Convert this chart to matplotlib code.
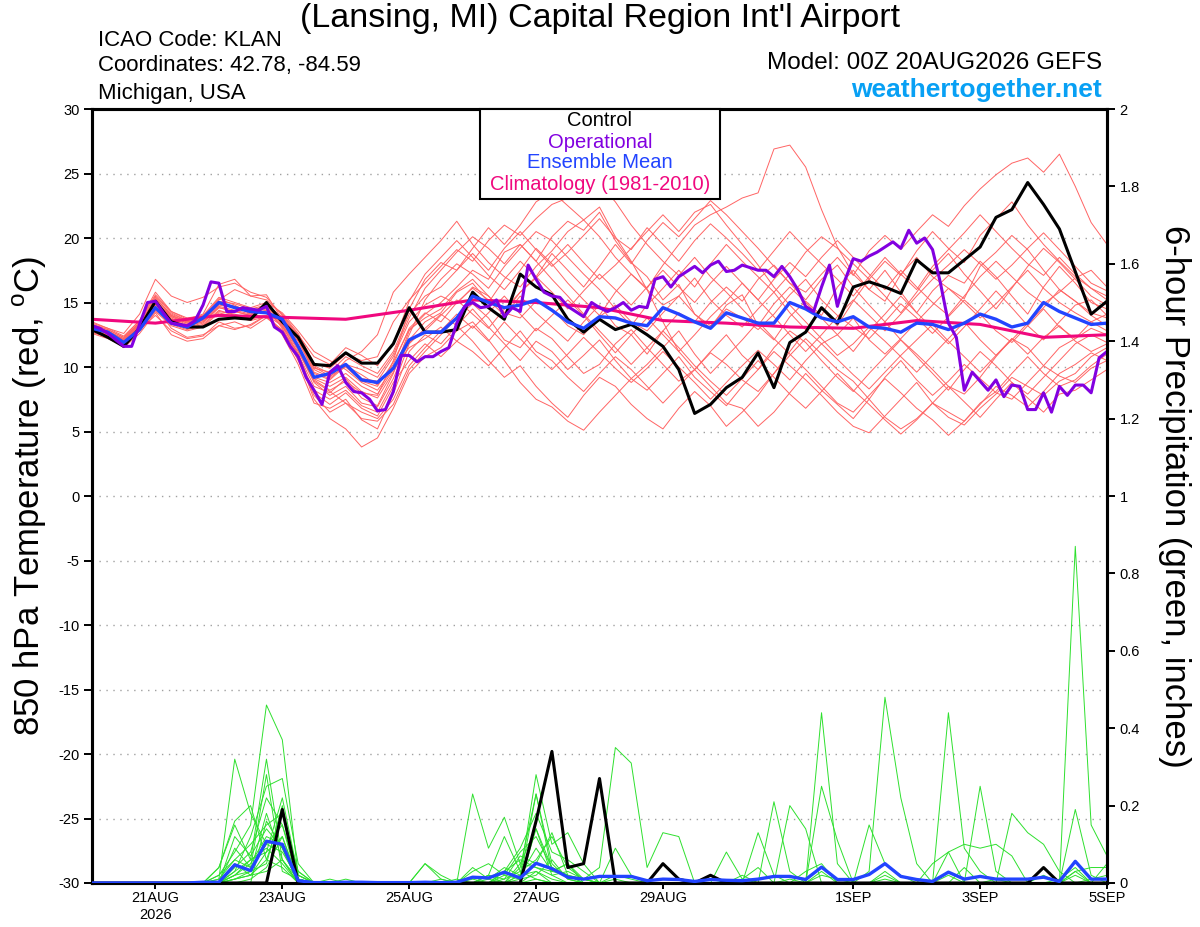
import numpy as np
import matplotlib
matplotlib.use('Agg')
import matplotlib.pyplot as plt
from matplotlib.patches import Rectangle

plt.rcParams['font.family'] = ['Liberation Sans', 'DejaVu Sans']
plt.rcParams['mathtext.fontset'] = 'custom'
plt.rcParams['mathtext.rm'] = 'Liberation Sans'
plt.rcParams['axes.unicode_minus'] = False

# time axis: days after 00Z 20AUG2026, 6-hourly (ensemble) and 3-hourly (operational)
days_6h = np.arange(65) / 4.0
days_3h = np.arange(129) / 8.0
days_clim = np.arange(17)

date_pos = [1, 3, 5, 7, 9, 12, 14, 16]
date_lab = ['21AUG\n2026', '23AUG', '25AUG', '27AUG', '29AUG', '1SEP', '3SEP', '5SEP']

# 850 hPa temperature (C)
control_t = [12.9, 12.3, 11.6, 13.0, 15.1, 13.5, 13.1, 13.1, 13.7, 13.8, 13.7, 15.0,
             13.5, 12.3, 10.2, 10.1, 11.1, 10.3, 10.3, 11.8, 14.6, 12.7, 12.7, 12.9,
             15.8, 14.6, 13.7, 17.2, 16.2, 15.6, 13.7, 12.7, 13.7, 12.9, 13.3, 12.5,
             11.6, 9.8, 6.4, 7.1, 8.4, 9.2, 11.1, 8.4, 11.9, 12.7, 14.6, 13.4,
             16.2, 16.6, 16.2, 15.7, 18.3, 17.3, 17.3, 18.3, 19.3, 21.6, 22.2, 24.3,
             22.6, 20.7, 17.4, 14.1, 15.1]

mean_t = [13.0, 12.7, 11.9, 12.9, 14.6, 13.4, 13.1, 13.8, 15.0, 14.6, 14.3, 14.2,
          13.7, 11.6, 9.2, 9.5, 10.2, 9.0, 8.8, 9.9, 12.1, 12.7, 12.7, 13.8,
          15.5, 15.0, 14.6, 14.8, 15.2, 14.4, 13.5, 13.0, 13.9, 13.8, 13.4, 13.2,
          14.6, 14.1, 13.5, 13.0, 14.2, 13.8, 13.4, 13.4, 15.0, 14.5, 13.8, 13.5,
          13.9, 13.1, 13.0, 12.7, 13.4, 13.3, 12.9, 13.4, 14.1, 13.7, 13.1, 13.4,
          15.0, 14.3, 13.8, 13.3, 13.4]

oper_t = [13.2, 13.0, 12.6, 12.1, 11.6, 11.6, 13.3, 15.0,
          15.1, 14.2, 13.4, 13.3, 13.2, 13.6, 14.8, 16.6,
          16.5, 14.3, 14.3, 14.6, 14.5, 14.4, 14.7, 13.1,
          12.7, 11.6, 10.8, 9.2, 8.2, 7.1, 9.6, 10.1,
          8.8, 8.1, 8.0, 7.5, 6.6, 6.7, 8.1, 10.9,
          10.9, 10.4, 10.8, 10.8, 11.2, 11.5, 13.4, 14.7,
          15.0, 14.6, 14.7, 15.2, 13.9, 14.6, 14.3, 17.9,
          16.8, 15.8, 15.5, 15.4, 14.7, 14.3, 13.9, 15.0,
          14.6, 14.3, 14.6, 15.0, 14.4, 14.7, 14.6, 16.8,
          17.0, 16.2, 17.0, 17.4, 17.8, 17.3, 17.9, 18.2,
          17.4, 17.5, 17.9, 17.7, 17.5, 17.5, 17.0, 17.8,
          17.0, 16.0, 14.7, 14.3, 16.2, 17.9, 14.7, 16.8,
          18.4, 18.2, 18.6, 18.9, 19.3, 19.7, 19.2, 20.6,
          19.6, 20.0, 19.1, 16.5, 13.4, 12.3, 8.2, 9.6,
          8.9, 8.2, 9.0, 7.7, 8.6, 8.5, 6.7, 6.7,
          8.0, 6.5, 8.5, 7.8, 8.6, 8.6, 8.0, 10.7,
          11.2]

clim_t = [13.7, 13.4, 14.0, 13.85, 13.7, 14.4, 15.2, 15.0, 14.6, 13.6, 13.4, 13.1,
          13.0, 13.6, 13.3, 12.3, 12.5]

members_t = [
    [13.2, 12.8, 12.1, 13.5, 15.5, 14.2, 13.6, 13.9, 15.3, 14.8, 14.1, 14.9, 13.2,
     11.0, 8.5, 8.0, 9.1, 7.6, 7.0, 9.5, 12.8, 14.1, 15.0, 16.2, 17.5, 16.8,
     18.9, 19.5, 18.2, 20.1, 21.3, 20.6, 22.0, 19.8, 18.1, 17.0, 15.2, 16.4,
     14.1, 13.0, 14.8, 15.6, 13.2, 12.1, 13.9, 15.1, 14.0, 16.2, 17.5, 16.0,
     15.1, 17.2, 18.5, 17.0, 16.1, 15.3, 17.8, 18.9, 20.2, 19.1, 17.5, 16.0,
     15.1, 14.2, 13.8],
    [12.8, 12.4, 11.5, 12.6, 14.2, 12.5, 12.0, 12.2, 13.2, 12.9, 13.3, 14.0, 12.8,
     10.5, 7.8, 6.5, 7.2, 6.0, 5.8, 7.1, 9.8, 11.2, 12.5, 13.8, 14.9, 13.8,
     12.1, 11.5, 13.0, 12.2, 10.8, 9.5, 10.2, 11.8, 12.9, 11.5, 10.2, 8.9,
     9.8, 11.2, 12.5, 10.9, 9.8, 11.5, 12.8, 11.9, 10.5, 9.2, 8.1, 9.5,
     10.8, 12.1, 11.0, 9.8, 8.5, 7.9, 9.2, 10.8, 12.2, 11.5, 10.1, 9.3,
     8.8, 9.9, 10.5],
    [13.5, 13.0, 12.6, 14.1, 16.8, 15.5, 15.0, 15.4, 16.2, 16.5, 15.8, 15.4, 14.0,
     12.5, 10.8, 10.2, 11.5, 10.9, 10.1, 11.8, 15.1, 17.2, 18.5, 19.8, 18.5, 17.1,
     16.0, 17.5, 19.2, 18.0, 16.5, 15.2, 14.0, 15.8, 17.2, 16.1, 17.9, 19.5,
     21.0, 21.8, 22.4, 23.1, 23.5, 26.9, 27.2, 25.5, 22.2, 19.3, 17.2, 16.0,
     17.5, 15.8, 14.2, 15.9, 17.1, 16.5, 18.2, 17.0, 15.5, 14.1, 16.2, 17.8,
     16.5, 15.0, 14.5],
    [12.9, 12.5, 11.9, 13.0, 14.8, 13.6, 13.1, 13.4, 14.6, 14.3, 14.0, 14.8, 13.8,
     12.2, 9.5, 9.0, 10.1, 9.4, 8.6, 10.2, 13.0, 14.2, 13.5, 15.0, 16.1, 15.2,
     14.0, 15.5, 14.2, 13.1, 12.0, 13.5, 14.8, 13.2, 12.5, 11.0, 12.8, 14.2,
     13.5, 15.0, 16.2, 15.1, 16.8, 17.9, 16.5, 15.8, 17.2, 18.5, 17.1, 19.0,
     20.2, 19.1, 20.5, 21.8, 20.9, 22.5, 23.8, 24.9, 25.8, 26.2, 25.1, 26.5,
     24.0, 21.2, 19.5],
    [13.1, 12.7, 12.2, 13.3, 15.2, 14.0, 13.5, 13.8, 15.0, 14.6, 14.3, 14.6, 13.0,
     10.8, 7.5, 6.0, 5.2, 3.8, 4.5, 6.8, 9.5, 10.8, 11.5, 12.8, 13.5, 12.1,
     10.5, 8.8, 7.5, 6.9, 5.8, 5.1, 6.5, 7.8, 9.1, 8.2, 9.5, 10.8,
     9.2, 8.1, 7.0, 8.5, 9.8, 11.2, 10.1, 9.0, 7.8, 6.5, 5.4, 4.9,
     6.2, 7.5, 8.8, 7.2, 6.1, 5.5, 6.8, 7.9, 9.2, 8.5, 7.8, 8.9,
     9.5, 10.8, 11.5],
    [13.0, 12.6, 12.0, 13.1, 14.9, 13.9, 13.4, 13.7, 14.9, 14.7, 14.4, 14.6, 13.6,
     12.0, 9.8, 9.2, 10.5, 11.2, 12.5, 15.8, 17.2, 18.5, 19.8, 21.3, 19.5, 18.1,
     17.0, 16.2, 17.8, 19.0, 20.5, 21.4, 20.1, 18.5, 17.2, 16.0, 14.8, 15.5,
     16.9, 15.2, 14.0, 13.1, 14.5, 15.8, 14.2, 12.9, 11.8, 12.5, 13.8, 12.1,
     11.0, 12.2, 13.5, 14.8, 16.1, 15.0, 13.8, 14.9, 16.2, 17.5, 16.1, 15.0,
     14.2, 13.5, 12.8],
    [12.7, 12.3, 11.8, 12.9, 14.0, 12.8, 12.2, 12.4, 13.5, 13.0, 13.2, 14.0, 13.2,
     11.5, 9.0, 8.2, 8.9, 8.0, 7.8, 10.5, 14.5, 16.8, 18.1, 17.5, 19.2, 20.8,
     19.5, 21.0, 22.8, 23.6, 22.5, 21.4, 22.4, 20.1, 18.2, 16.0, 13.5, 11.2,
     9.8, 8.5, 7.2, 6.8, 5.4, 6.5, 8.0, 9.5, 8.2, 7.1, 6.0, 7.5,
     9.2, 10.5, 9.0, 7.8, 8.9, 10.2, 9.1, 8.0, 7.5, 8.8, 10.1, 11.5,
     12.2, 13.0, 12.5],
    [13.3, 12.9, 12.3, 13.4, 15.3, 14.1, 13.6, 13.9, 15.1, 14.9, 14.5, 14.8, 13.9,
     12.4, 10.1, 9.5, 10.2, 9.1, 8.9, 10.8, 13.5, 14.8, 15.5, 14.9, 16.2, 15.5,
     14.2, 13.8, 15.1, 14.5, 13.2, 12.5, 13.9, 14.8, 13.5, 12.8, 14.2, 15.5,
     14.1, 13.2, 14.5, 13.8, 12.9, 14.1, 15.6, 16.8, 15.2, 14.0, 13.1, 12.2,
     13.5, 14.9, 13.8, 12.6, 13.9, 15.2, 14.1, 12.8, 11.9, 13.2, 14.5, 13.1,
     12.2, 13.5, 14.1],
    [12.6, 12.2, 11.6, 12.8, 14.4, 13.3, 12.9, 13.2, 14.3, 14.1, 13.7, 14.0, 12.5,
     10.2, 7.2, 6.8, 7.5, 5.9, 5.2, 7.9, 11.2, 12.5, 11.8, 13.2, 12.0, 10.5,
     9.2, 10.1, 8.5, 7.2, 6.1, 7.8, 9.2, 8.5, 7.1, 6.0, 5.2, 6.8,
     8.1, 7.0, 5.4, 6.5, 7.8, 9.5, 11.2, 12.8, 14.5, 13.2, 15.1, 16.8,
     18.2, 17.1, 19.0, 20.5, 19.2, 18.1, 20.2, 21.5, 22.8, 21.0, 19.5, 18.2,
     17.0, 16.1, 15.2],
    [13.0, 12.5, 11.9, 13.0, 15.1, 13.7, 13.2, 13.5, 14.7, 14.4, 14.1, 14.4, 13.1,
     11.3, 8.8, 7.8, 8.5, 7.2, 6.9, 9.1, 12.1, 13.5, 14.2, 15.8, 16.5, 15.0,
     16.8, 18.2, 17.0, 18.8, 17.5, 16.2, 17.8, 19.5, 18.0, 19.8, 21.2, 20.1,
     21.5, 22.9, 21.8, 20.5, 19.2, 17.8, 16.5, 15.2, 16.8, 17.9, 16.2, 14.8,
     13.5, 12.1, 10.8, 9.5, 8.2, 9.8, 11.2, 10.1, 8.8, 7.9, 9.2, 10.5,
     11.8, 12.5, 11.9],
    [13.4, 13.0, 12.4, 13.6, 15.6, 14.3, 13.8, 14.0, 15.4, 15.0, 14.6, 15.0, 14.2,
     12.8, 11.2, 10.5, 9.8, 8.8, 8.2, 9.9, 11.5, 12.2, 13.1, 12.0, 11.2, 10.1,
     11.5, 12.8, 11.2, 10.5, 9.2, 8.1, 9.5, 10.8, 9.8, 8.5, 7.2, 8.5,
     9.8, 11.1, 10.2, 9.0, 8.1, 9.5, 10.9, 12.2, 11.0, 9.8, 8.9, 7.5,
     6.1, 5.2, 6.0, 7.2, 6.5, 5.8, 7.1, 8.5, 7.8, 6.9, 8.1, 9.5,
     10.2, 11.1, 10.5],
    [12.9, 12.5, 12.0, 13.2, 15.0, 13.9, 13.4, 13.6, 14.8, 14.6, 14.2, 14.5, 13.4,
     11.6, 9.2, 8.8, 9.5, 8.5, 7.9, 9.8, 12.5, 15.2, 16.8, 18.0, 17.2, 16.1,
     17.8, 19.2, 20.5, 19.8, 18.5, 17.2, 16.0, 14.5, 13.2, 14.8, 16.1, 17.5,
     16.2, 18.0, 19.5, 18.2, 17.0, 15.8, 17.2, 18.9, 20.1, 19.2, 18.0, 16.8,
     15.5, 14.2, 15.8, 17.5, 18.8, 17.2, 15.9, 14.5, 16.1, 17.8, 19.2, 18.1,
     16.8, 15.5, 14.8],
    [13.1, 12.6, 11.9, 13.0, 14.7, 13.0, 12.3, 12.5, 13.2, 13.5, 13.0, 13.8, 12.9,
     11.0, 8.0, 7.1, 8.0, 6.8, 6.2, 8.5, 11.8, 13.0, 14.1, 13.2, 14.5, 13.1,
     11.8, 10.5, 12.0, 11.2, 9.8, 10.9, 12.1, 10.5, 9.1, 10.2, 11.5, 12.8,
     11.0, 9.5, 10.8, 12.1, 13.5, 12.2, 11.0, 9.8, 8.5, 7.2, 6.5, 7.8,
     9.1, 8.0, 6.8, 5.9, 4.7, 5.8, 7.2, 8.1, 9.5, 10.8, 9.5, 8.5,
     9.0, 10.1, 11.0],
    [13.2, 12.7, 12.1, 13.3, 15.4, 14.0, 13.5, 13.8, 15.2, 16.0, 15.5, 15.6, 13.7,
     12.1, 9.9, 9.6, 10.8, 10.1, 9.5, 11.2, 14.1, 15.5, 16.2, 17.5, 18.8, 17.5,
     19.2, 20.5, 19.1, 17.8, 18.9, 20.2, 21.5, 20.0, 19.1, 20.8, 19.5, 18.2,
     19.8, 21.1, 20.0, 18.8, 17.5, 19.0, 20.5, 19.2, 18.0, 16.8, 15.5, 17.0,
     18.5, 17.2, 16.0, 17.8, 19.1, 20.4, 21.8, 20.5, 19.2, 18.0, 17.1, 18.5,
     17.2, 16.1, 15.5],
    [12.8, 12.4, 11.7, 12.9, 14.5, 13.4, 13.0, 13.3, 14.4, 14.0, 13.8, 14.0, 12.6,
     10.6, 8.2, 7.5, 8.2, 7.0, 6.5, 8.8, 10.5, 11.8, 10.8, 12.0, 13.2, 12.0,
     13.5, 12.2, 10.9, 9.8, 11.0, 12.3, 11.1, 9.9, 8.8, 9.9, 11.2, 10.0,
     8.8, 7.5, 8.8, 10.1, 11.3, 10.2, 9.0, 10.5, 11.8, 10.6, 9.4, 8.3,
     9.6, 10.9, 12.1, 13.3, 12.0, 10.8, 9.6, 10.9, 12.2, 11.0, 12.3, 13.2,
     12.0, 11.2, 11.8],
    [13.3, 12.9, 12.3, 13.6, 15.8, 14.3, 13.7, 14.1, 16.4, 16.8, 15.5, 15.2, 14.1,
     12.6, 10.3, 9.9, 11.0, 10.5, 10.8, 13.5, 15.2, 16.5, 17.8, 19.1, 18.2, 19.8,
     21.0, 20.2, 21.5, 22.6, 23.1, 23.9, 24.2, 22.8, 21.0, 19.5, 18.2, 17.1,
     18.5, 17.0, 15.8, 14.5, 13.2, 14.9, 16.2, 15.0, 13.8, 12.5, 11.2, 12.8,
     14.1, 15.5, 14.2, 13.0, 11.8, 13.1, 14.5, 15.9, 14.6, 13.2, 12.1, 13.5,
     14.8, 15.2, 14.0],
    [12.7, 12.3, 11.8, 12.8, 14.3, 13.2, 12.8, 13.1, 14.2, 13.9, 13.6, 13.9, 12.7,
     11.2, 8.9, 8.1, 7.2, 6.5, 6.0, 7.5, 10.1, 11.5, 12.8, 14.1, 13.0, 14.2,
     15.5, 14.1, 12.8, 14.0, 15.2, 14.0, 12.5, 11.1, 12.5, 13.8, 12.5, 11.2,
     12.5, 13.9, 15.1, 16.5, 15.2, 13.9, 12.5, 11.2, 12.5, 13.9, 15.2, 14.0,
     12.8, 14.1, 15.5, 16.8, 17.9, 19.1, 18.0, 16.8, 17.9, 19.2, 20.4, 19.1,
     17.8, 16.5, 15.9],
    [13.0, 12.6, 12.1, 13.2, 15.1, 13.8, 13.3, 13.6, 14.9, 14.6, 14.3, 14.6, 13.6,
     12.0, 9.6, 9.1, 10.2, 9.8, 9.2, 11.0, 13.8, 16.1, 17.5, 18.9, 20.1, 19.2,
     18.0, 19.5, 18.2, 16.8, 15.5, 14.1, 12.8, 11.5, 10.2, 11.5, 12.8, 11.5,
     10.1, 8.9, 7.8, 9.1, 10.5, 9.2, 7.9, 6.8, 8.1, 9.5, 8.2, 7.1,
     5.9, 4.8, 5.9, 7.2, 8.5, 7.3, 6.1, 7.5, 8.8, 7.6, 6.5, 7.9,
     8.2, 9.0, 9.8],
    [13.2, 12.8, 12.2, 13.4, 15.0, 14.0, 13.5, 13.7, 15.0, 14.7, 14.3, 14.8, 13.8,
     12.3, 10.0, 9.3, 10.0, 8.9, 8.5, 10.4, 12.9, 13.8, 14.5, 15.9, 16.8, 15.5,
     14.2, 15.8, 17.0, 15.8, 14.5, 15.9, 17.2, 16.0, 14.8, 16.2, 17.5, 16.2,
     15.0, 16.5, 17.8, 16.5, 15.2, 16.8, 18.1, 17.0, 18.5, 19.8, 18.5, 17.2,
     16.0, 17.5, 16.2, 15.0, 14.0, 15.5, 17.0, 18.2, 17.0, 15.8, 14.9, 15.8,
     16.9, 17.5, 16.2],
    [12.9, 12.4, 11.9, 13.1, 14.9, 13.7, 13.2, 13.5, 14.6, 14.3, 14.0, 14.4, 13.3,
     11.4, 9.1, 8.5, 9.2, 8.1, 7.6, 9.6, 11.9, 12.8, 14.0, 15.2, 14.1, 13.0,
     14.5, 15.8, 16.9, 18.2, 19.5, 18.1, 16.8, 17.9, 19.2, 20.5, 21.8, 20.5,
     22.0, 22.6, 21.0, 19.5, 17.9, 16.2, 14.8, 13.5, 12.2, 10.9, 11.8, 13.1,
     12.0, 10.8, 9.6, 10.9, 12.2, 13.5, 12.1, 10.9, 12.1, 13.4, 14.6, 16.0,
     15.1, 14.0, 13.2],
]

# 6-hour precipitation, hundredths of an inch
control_p = [0, 0, 0, 0, 0, 0, 0, 0, 0, 0, 0, 0,
             19, 0, 0, 0, 0, 0, 0, 0, 0, 0, 0, 0,
             0, 0, 0, 0, 16, 34, 4, 5, 27, 0, 0, 0,
             5, 1, 0, 2, 0, 0, 0, 0, 0, 0, 0, 0,
             0, 0, 0, 0, 0, 0, 0, 0, 0, 0, 0, 0,
             4, 0, 0, 0, 0]

mean_p = [0, 0, 0, 0, 0, 0, 0, 0.2, 0.2, 4.7, 3.2, 10.8,
          10.0, 0.6, 0.1, 0.1, 0.2, 0.2, 0.1, 0.1, 0.1, 0.2, 0.1, 0.2,
          1.5, 1.3, 2.8, 1.3, 5.1, 3.7, 1.5, 1.0, 1.7, 1.7, 1.7, 0.6,
          1.0, 0.9, 0.4, 0.9, 0.7, 0.6, 1.0, 1.7, 1.7, 0.9, 4.1, 0.9,
          0.9, 2.2, 5.0, 1.7, 0.9, 0.4, 2.8, 1.0, 1.7, 1.0, 1.0, 1.0,
          1.5, 0.4, 5.6, 1.0, 1.0]

members_p = [
    [0, 0, 0, 0, 0, 0, 0, 0, 2, 8, 15, 46, 37, 2, 0, 0, 0, 0, 0, 0, 0, 0, 0, 0, 3,
     5, 2, 8, 12, 4, 2, 0, 0, 1, 0, 0, 0, 0, 0, 0, 0, 2, 0, 0, 1, 0, 3, 0, 0, 0,
     2, 0, 0, 0, 0, 0, 0, 1, 0, 0, 0, 0, 2, 0, 0],
    [0, 0, 0, 0, 0, 0, 0, 0, 1, 32, 18, 10, 8, 1, 0, 0, 0, 0, 0, 0, 0, 0, 0, 0, 0,
     2, 12, 3, 1, 0, 0, 0, 0, 0, 0, 0, 0, 0, 0, 0, 0, 0, 0, 0, 0, 0, 44, 5, 0, 0,
     0, 0, 0, 0, 0, 0, 0, 0, 0, 0, 0, 0, 0, 0, 0],
    [0, 0, 0, 0, 0, 0, 0, 0, 0, 3, 12, 25, 27, 5, 0, 0, 0, 0, 0, 0, 0, 0, 0, 0, 0,
     0, 3, 9, 18, 8, 6, 3, 0, 0, 0, 0, 0, 0, 0, 0, 0, 0, 0, 0, 0, 0, 0, 0, 0, 3,
     48, 22, 5, 0, 0, 0, 0, 0, 0, 0, 0, 0, 0, 0, 0],
    [0, 0, 0, 0, 0, 0, 0, 0, 4, 16, 20, 6, 18, 3, 0, 0, 0, 0, 0, 0, 0, 5, 2, 0, 0,
     1, 4, 2, 28, 10, 13, 5, 0, 0, 0, 0, 0, 0, 0, 0, 0, 0, 0, 0, 0, 0, 0, 0, 0, 0,
     0, 0, 0, 0, 44, 9, 3, 0, 0, 0, 0, 0, 0, 0, 0],
    [0, 0, 0, 0, 0, 0, 0, 0, 0, 4, 8, 22, 15, 2, 0, 1, 0, 0, 0, 0, 0, 0, 0, 0, 23,
     9, 17, 5, 4, 3, 2, 1, 4, 35, 31, 4, 13, 12, 0, 0, 0, 0, 0, 0, 0, 0, 0, 0, 0, 0,
     0, 0, 0, 0, 0, 0, 0, 0, 0, 0, 0, 0, 87, 15, 7],
    [0, 0, 0, 0, 0, 0, 0, 0, 4, 15, 6, 32, 6, 1, 0, 0, 0, 0, 0, 0, 0, 0, 0, 0, 0,
     0, 2, 1, 23, 3, 5, 1, 0, 2, 1, 0, 0, 0, 0, 0, 0, 0, 0, 21, 3, 0, 0, 0, 0, 0,
     0, 0, 0, 0, 0, 0, 25, 3, 0, 0, 0, 0, 19, 2, 0],
    [0, 0, 0, 0, 0, 0, 0, 0, 0, 9, 4, 28, 3, 1, 0, 0, 1, 0, 0, 0, 0, 0, 0, 0, 1,
     0, 1, 7, 5, 13, 2, 1, 0, 0, 0, 0, 0, 0, 0, 0, 0, 0, 0, 0, 20, 14, 0, 0, 0, 0,
     0, 0, 0, 0, 0, 0, 0, 0, 18, 13, 10, 3, 0, 0, 0],
    [0, 0, 0, 0, 0, 0, 0, 0, 1, 6, 10, 15, 18, 3, 0, 0, 0, 0, 0, 0, 0, 0, 0, 0, 0,
     0, 0, 5, 14, 2, 0, 0, 0, 0, 0, 0, 0, 0, 0, 0, 0, 0, 13, 2, 0, 0, 0, 0, 0, 15,
     5, 2, 0, 0, 0, 0, 0, 0, 0, 0, 0, 0, 0, 0, 5],
    [0, 0, 0, 0, 0, 0, 0, 0, 0, 2, 5, 12, 10, 1, 0, 0, 0, 0, 0, 0, 0, 0, 0, 0, 0,
     2, 1, 3, 6, 12, 4, 1, 0, 9, 2, 0, 0, 0, 0, 0, 8, 1, 0, 0, 0, 0, 0, 0, 0, 0,
     0, 0, 0, 0, 8, 10, 9, 10, 7, 0, 0, 0, 0, 0, 0],
    [0, 0, 0, 0, 0, 0, 0, 0, 0, 1, 3, 18, 6, 0, 0, 0, 0, 0, 0, 0, 0, 0, 0, 0, 4,
     1, 0, 2, 9, 3, 5, 0, 0, 0, 0, 0, 0, 0, 0, 0, 0, 0, 0, 0, 0, 0, 25, 11, 0, 0,
     0, 0, 0, 0, 0, 0, 0, 0, 0, 0, 0, 0, 3, 0, 0],
    [0, 0, 0, 0, 0, 0, 0, 0, 0, 12, 7, 14, 9, 0, 0, 0, 0, 0, 0, 0, 0, 5, 1, 0, 0,
     0, 0, 0, 0, 0, 0, 0, 0, 0, 0, 0, 0, 0, 0, 1, 0, 0, 0, 0, 0, 0, 0, 0, 0, 0,
     1, 0, 0, 0, 0, 0, 0, 0, 0, 0, 0, 0, 0, 0, 0],
    [0, 0, 0, 0, 0, 0, 0, 0, 2, 6, 4, 10, 15, 0, 0, 0, 0, 0, 0, 0, 0, 0, 1, 0, 0,
     0, 3, 6, 4, 2, 3, 1, 0, 0, 0, 0, 0, 0, 0, 0, 0, 1, 4, 0, 0, 0, 2, 1, 0, 0,
     3, 0, 0, 0, 2, 0, 0, 0, 0, 0, 2, 0, 0, 1, 2],
    [0, 0, 0, 0, 0, 0, 0, 0, 0, 5, 2, 8, 22, 2, 0, 0, 0, 0, 0, 0, 0, 0, 0, 0, 0,
     2, 0, 4, 23, 5, 1, 0, 0, 0, 0, 0, 0, 0, 0, 0, 0, 0, 0, 0, 0, 0, 0, 0, 0, 0,
     0, 0, 0, 5, 8, 0, 0, 0, 0, 0, 0, 0, 0, 0, 0],
    [0, 0, 0, 0, 0, 0, 0, 0, 0, 3, 6, 8, 12, 1, 0, 0, 0, 0, 0, 0, 0, 0, 0, 1, 0,
     0, 0, 1, 2, 6, 1, 0, 0, 0, 0, 0, 0, 0, 0, 0, 0, 0, 0, 0, 0, 0, 0, 0, 0, 0,
     0, 0, 0, 0, 0, 4, 0, 0, 0, 0, 0, 1, 4, 0, 0],
    [0, 0, 0, 0, 0, 0, 0, 0, 0, 2, 6, 9, 5, 0, 0, 0, 0, 0, 0, 0, 0, 0, 0, 0, 0,
     0, 0, 2, 3, 1, 0, 0, 0, 0, 0, 0, 0, 0, 0, 0, 0, 0, 0, 0, 0, 3, 5, 0, 0, 0,
     0, 0, 0, 0, 0, 0, 0, 0, 0, 0, 0, 0, 0, 0, 0],
    [0, 0, 0, 0, 0, 0, 0, 0, 0, 2, 3, 5, 20, 1, 0, 0, 0, 0, 0, 0, 0, 0, 0, 0, 0,
     0, 0, 0, 1, 0, 0, 0, 0, 0, 0, 0, 0, 0, 0, 0, 0, 0, 0, 0, 0, 0, 0, 0, 0, 0,
     0, 0, 0, 0, 0, 0, 0, 0, 0, 0, 0, 0, 0, 0, 0],
    [0, 0, 0, 0, 0, 0, 0, 0, 0, 1, 2, 6, 4, 0, 0, 0, 0, 0, 0, 0, 0, 0, 0, 0, 0,
     0, 0, 0, 14, 4, 2, 0, 0, 0, 0, 0, 0, 0, 0, 0, 0, 0, 0, 0, 0, 0, 0, 0, 0, 0,
     0, 0, 0, 0, 0, 0, 0, 0, 0, 0, 0, 0, 3, 4, 4],
    [0, 0, 0, 0, 0, 0, 0, 0, 0, 0, 1, 4, 12, 0, 0, 0, 0, 0, 0, 0, 0, 0, 0, 0, 0,
     0, 0, 0, 0, 0, 0, 0, 0, 0, 0, 0, 0, 0, 0, 0, 0, 0, 0, 0, 0, 0, 0, 0, 0, 0,
     0, 0, 0, 0, 0, 0, 0, 0, 0, 0, 0, 0, 0, 0, 0],
    [0, 0, 0, 0, 0, 0, 0, 0, 0, 0, 0, 16, 9, 0, 0, 0, 0, 0, 0, 0, 0, 0, 0, 0, 0,
     0, 0, 0, 0, 0, 0, 0, 0, 0, 0, 0, 0, 0, 0, 0, 0, 0, 0, 0, 0, 0, 0, 0, 0, 0,
     0, 0, 0, 0, 0, 0, 0, 0, 0, 0, 0, 0, 0, 0, 0],
    [0, 0, 0, 0, 0, 0, 0, 0, 0, 1, 2, 3, 6, 0, 0, 0, 0, 0, 0, 0, 0, 0, 0, 0, 0,
     0, 0, 0, 3, 0, 0, 0, 0, 0, 0, 0, 0, 0, 0, 0, 0, 0, 0, 0, 0, 0, 0, 0, 0, 0,
     0, 0, 0, 0, 0, 0, 0, 0, 0, 0, 0, 0, 0, 0, 0],
]

RED = '#ff6464'
GREEN = '#2ee02e'
PURPLE = '#8200e0'
BLUE = '#2244ff'
PINK = '#f0087e'

fig = plt.figure(figsize=(12, 9.27), dpi=100)
ax = fig.add_axes([92 / 1200, 1 - 883 / 927, 1015 / 1200, 774 / 927])
ax2 = ax.twinx()

for m in members_t:
    ax.plot(days_6h, m, color=RED, lw=0.7, zorder=2)
ax.plot(days_clim, clim_t, color=PINK, lw=2.2, zorder=4)
ax.plot(days_6h, control_t, color='black', lw=2.2, zorder=5)
ax.plot(days_6h, mean_t, color=BLUE, lw=2.4, zorder=6)
ax.plot(days_3h, oper_t, color=PURPLE, lw=2.2, zorder=7)

for m in members_p:
    ax2.plot(days_6h, np.array(m) / 100.0, color=GREEN, lw=0.7, zorder=2)
ax2.plot(days_6h, np.array(control_p) / 100.0, color='black', lw=2.2, zorder=5)
ax2.plot(days_6h, np.array(mean_p) / 100.0, color=BLUE, lw=2.4, zorder=6)

ax.set_xlim(0, 16)
ax.set_ylim(-30, 30)
ax2.set_ylim(0, 2)

ax.set_yticks(np.arange(-30, 31, 5))
for g in range(-25, 30, 5):
    ax.axhline(g, color='#a0a0a0', lw=1.0, ls=(0, (1, 4)), zorder=1)

p_ticks = np.arange(0, 2.01, 0.2)
ax2.set_yticks(p_ticks)
ax2.set_yticklabels(['0', '0.2', '0.4', '0.6', '0.8', '1', '1.2', '1.4', '1.6', '1.8', '2'])

ax.set_xticks(date_pos)
ax.set_xticklabels(date_lab)

ax.tick_params(axis='y', direction='out', length=6, width=1.4, labelsize=10.5, pad=3)
ax2.tick_params(axis='y', direction='out', length=6, width=1.4, labelsize=10.5, pad=3)
ax.tick_params(axis='x', direction='out', length=4, width=1.4, labelsize=10.5, pad=2)

for a in (ax, ax2):
    for s in a.spines.values():
        s.set_linewidth(2.2)

fig.text(0.5, 1 - 18 / 927, "(Lansing, MI) Capital Region Int'l Airport",
         ha='center', va='center', fontsize=24.5)
fig.text(98 / 1200, 1 - 40 / 927, 'ICAO Code: KLAN', ha='left', va='center', fontsize=16)
fig.text(98 / 1200, 1 - 66 / 927, 'Coordinates: 42.78, -84.59', ha='left', va='center', fontsize=16)
fig.text(98 / 1200, 1 - 93 / 927, 'Michigan, USA', ha='left', va='center', fontsize=16)
fig.text(1102 / 1200, 1 - 63 / 927, 'Model: 00Z 20AUG2026 GEFS', ha='right', va='center', fontsize=17.5)
fig.text(1102 / 1200, 1 - 90 / 927, 'weathertogether.net', ha='right', va='center',
         fontsize=19, fontweight='bold', color='#08a0f4')

fig.text(30 / 1200, 1 - 496 / 927, r'850 hPa Temperature (red, $^{\mathrm{o}}$C)',
         rotation=90, ha='center', va='center', fontsize=25)
fig.text(1175 / 1200, 1 - 496 / 927, '6-hour Precipitation (green, inches)',
         rotation=270, ha='center', va='center', fontsize=25)

# legend box
fig.add_artist(Rectangle((480 / 1200, 1 - 199 / 927), 240 / 1200, 90 / 927,
                         transform=fig.transFigure, facecolor='white',
                         edgecolor='black', lw=1.5, zorder=10))
leg_items = [('Control', 'black', 121), ('Operational', PURPLE, 142),
             ('Ensemble Mean', BLUE, 163), ('Climatology (1981-2010)', PINK, 185)]
for txt, col, ypx in leg_items:
    fig.text(600 / 1200, 1 - ypx / 927, txt, ha='center', va='center',
             fontsize=14.5, color=col, zorder=11)

fig.savefig('out.png', dpi=100)
